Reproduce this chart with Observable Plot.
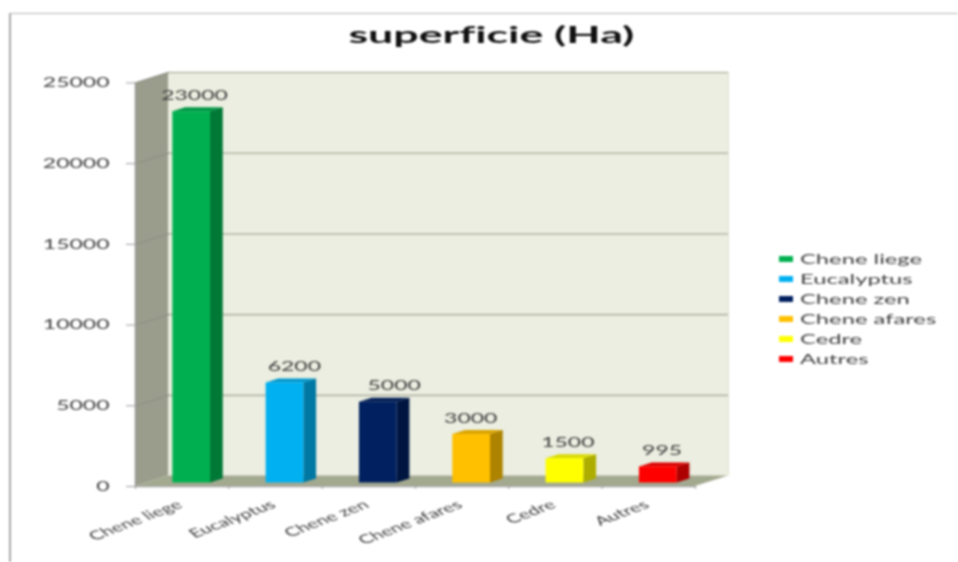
<!DOCTYPE html>
<html>
<head>
<meta charset="utf-8">
<script src="https://cdn.jsdelivr.net/npm/d3@7"></script>
<script src="https://cdn.jsdelivr.net/npm/@observablehq/plot@0.6"></script>
<style>
  html, body { margin: 0; padding: 0; background: #fff; overflow: hidden; }
  #page { position: relative; width: 958px; height: 562px; overflow: hidden; filter: blur(0.8px); font-family: Lato, sans-serif; }
  #frame { position: absolute; left: 9px; top: 13px; width: 980px; height: 600px; border: 1px solid #b4b4b4; border-left: 2px solid #a8a8a8; }
  #title { position: relative; height: 60px; line-height: 70px; text-align: center; width: 982px; font-size: 22px; font-weight: 700; color: #111; font-variant-ligatures: none; }
  #title span { display: inline-block; transform: scaleX(2.03); }
  #chart svg { display: block; background: transparent; }
  #legend { position: absolute; left: 779px; top: 249px; }
  .entry { display: flex; align-items: center; height: 20px; }
  .swatch { width: 14px; height: 6px; margin-right: 7px; }
  .name { font-size: 12.5px; color: #404040; transform: scaleX(1.9); transform-origin: left center; white-space: nowrap; }
</style>
</head>
<body>
<div id="page">
  <div id="frame"></div>
  <div id="title"><span>superficie (Ha)</span></div>
  <div id="chart"></div>
  <div id="legend"></div>
</div>
<script>
const categories = ["Chene liege", "Eucalyptus", "Chene zen", "Chene afares", "Cedre", "Autres"];
const values = [23000, 6200, 5000, 3000, 1500, 995];
const colors = ["#00b050", "#00b0f0", "#002060", "#ffc000", "#ffff00", "#ff0000"];
const yTicks = [0, 5000, 10000, 15000, 20000, 25000];

// Oblique projection of the 3D box, in data units
const depthX = 0.354, depthY = 645;
const barLeft = 0.4, barWidth = 0.404;
const z0 = 0.337, z1 = 0.722;
const stretch = 1.77;
const labelNudge = [0.03, 0.1, 0.17, -0.01, 0.03, 0.04];

const yAt = (v, z) => v + z * depthY;
const bars = categories.map((name, i) => ({name, i, v: values[i], color: colors[i], x0: i + barLeft, x1: i + barLeft + barWidth}));
const dk = (c, k) => { const r = d3.rgb(c); return d3.rgb(r.r * k, r.g * k, r.b * k).formatHex(); };
const dz = (z1 - z0) * depthX;

const sideFaces = bars.flatMap(b => [
  {k: b.i, fill: dk(b.color, 0.68), x: b.x1, y1: yAt(0, z0), y2: yAt(b.v, z0)},
  {k: b.i, fill: dk(b.color, 0.68), x: b.x1 + dz, y1: yAt(0, z1), y2: yAt(b.v, z1)}
]);
const topFaces = bars.flatMap(b => [
  {k: b.i, fill: dk(b.color, 0.86), x: b.x0, y1: yAt(b.v, z0), y2: yAt(b.v, z0)},
  {k: b.i, fill: dk(b.color, 0.86), x: b.x0 + dz, y1: yAt(b.v, z0), y2: yAt(b.v, z1)},
  {k: b.i, fill: dk(b.color, 0.86), x: b.x1, y1: yAt(b.v, z0), y2: yAt(b.v, z1)},
  {k: b.i, fill: dk(b.color, 0.86), x: b.x1 + dz, y1: yAt(b.v, z1), y2: yAt(b.v, z1)}
]);
const yMax = yTicks[yTicks.length - 1], n = categories.length;
const sideWall = [
  {x: 0, y1: 0, y2: yMax},
  {x: depthX, y1: depthY, y2: yMax + depthY}
];
const floorFace = [
  {x: 0, y1: 0, y2: 0},
  {x: depthX, y1: 0, y2: depthY},
  {x: n, y1: 0, y2: depthY},
  {x: n + depthX, y1: depthY, y2: depthY}
];
const gridDiag = yTicks.flatMap(v => [{k: v, x: 0, y: v}, {k: v, x: depthX, y: v + depthY}]);
const mids = categories.map((_, i) => i + 0.5);

const plot = Plot.plot({
  width: 958,
  height: 502,
  marginLeft: 135,
  marginRight: 230,
  marginTop: 12,
  marginBottom: 76,
  x: {domain: [0, n + depthX], axis: null},
  y: {domain: [0, yMax + depthY], axis: null},
  marks: [
    Plot.rect([0], {x1: depthX, x2: n + depthX, y1: depthY, y2: yMax + depthY, fill: "#ebeee0"}),
    Plot.area(sideWall, {x1: "x", y1: "y1", y2: "y2", fill: "#9a9d8c"}),
    Plot.area(floorFace, {x1: "x", y1: "y1", y2: "y2", fill: "#a3a98f"}),
    Plot.ruleY(yTicks.slice(1), {y: v => v + depthY, x1: depthX, x2: n + depthX, stroke: "#b4b7a7", strokeWidth: 1.6}),
    Plot.line(gridDiag.filter(d => d.k > 0), {x: "x", y: "y", z: "k", stroke: "#8b8d80", strokeWidth: 1}),
    Plot.ruleX([n + depthX], {y1: depthY, y2: yMax + depthY, stroke: "#dfe2d4", strokeWidth: 1}),
    Plot.area(sideFaces, {x1: "x", y1: "y1", y2: "y2", z: "k", fill: "fill"}),
    Plot.area(topFaces, {x1: "x", y1: "y1", y2: "y2", z: "k", fill: "fill"}),
    Plot.rect(bars, {x1: "x0", x2: "x1", y1: yAt(0, z0), y2: d => yAt(d.v, z0), fill: "color"}),
    Plot.ruleX([0], {y1: 0, y2: yMax, stroke: "#9a9a9a", strokeWidth: 1.5}),
    Plot.ruleY([0], {x1: 0, x2: n, stroke: "#a8a8a8", strokeWidth: 1.5}),
    Plot.axisY({ticks: yTicks, tickFormat: "d", label: null, tickSize: 9, tickPadding: 17, stroke: "#9a9a9a", fill: "#404040", fontSize: 13, fontFamily: "Lato, sans-serif"}),
    Plot.axisX({ticks: d3.range(n + 1), tickSize: 3, label: null, fill: "none", stroke: "#9a9a9a"}),
    Plot.axisX({ticks: mids, tickSize: 0, tickPadding: 17, dx: -2, label: null, tickFormat: t => categories[Math.floor(t)], textAnchor: "end", lineAnchor: "middle", fill: "#404040", fontSize: 12.2, fontFamily: "Lato, sans-serif"}),
    Plot.text(bars, {
      x: d => (d.x0 + d.x1) / 2 + labelNudge[d.i],
      y: d => yAt(d.v, z0),
      text: d => String(d.v),
      dy: -16,
      fill: "#404040",
      fontSize: 13,
      fontFamily: "Lato, sans-serif"
    })
  ]
});
document.getElementById("chart").append(plot);

plot.querySelectorAll('[aria-label="y-axis tick label"] text, [aria-label="text"] text').forEach(t => {
  t.setAttribute("transform", t.getAttribute("transform") + ` scale(${stretch},1)`);
});
plot.querySelectorAll('[aria-label="x-axis tick label"] text').forEach(t => {
  t.setAttribute("transform", t.getAttribute("transform") + ` scale(1.7,1) rotate(-33)`);
});

const legend = document.getElementById("legend");
categories.forEach((c, i) => {
  const e = document.createElement("div");
  e.className = "entry";
  const s = document.createElement("div");
  s.className = "swatch";
  s.style.background = colors[i];
  const t = document.createElement("div");
  t.className = "name";
  t.textContent = c;
  e.append(s, t);
  legend.append(e);
});
</script>
</body>
</html>
